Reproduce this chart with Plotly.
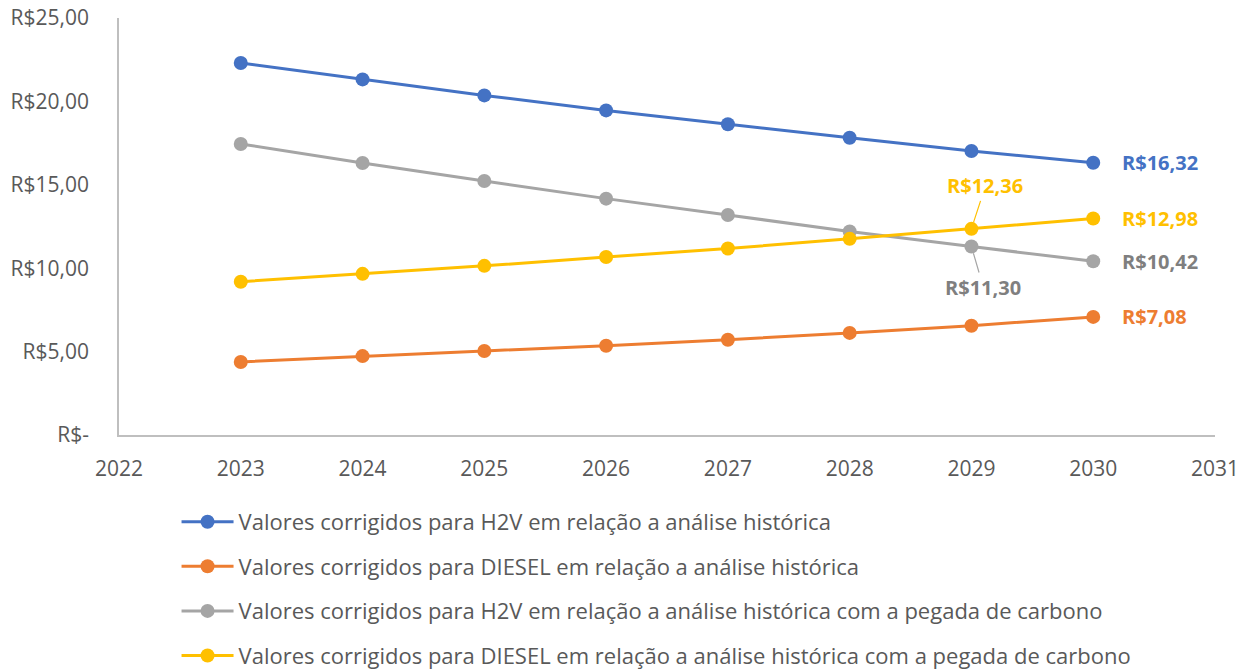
import plotly.graph_objects as go

years = [2023, 2024, 2025, 2026, 2027, 2028, 2029, 2030]
h2v = [22.30, 21.32, 20.36, 19.46, 18.63, 17.82, 17.03, 16.32]
diesel = [4.38, 4.73, 5.04, 5.35, 5.71, 6.12, 6.55, 7.08]
h2v_carbono = [17.45, 16.31, 15.23, 14.17, 13.19, 12.20, 11.30, 10.42]
diesel_carbono = [9.19, 9.66, 10.14, 10.67, 11.18, 11.76, 12.36, 12.98]

names = [
    "Valores corrigidos para H2V em relação a análise histórica",
    "Valores corrigidos para DIESEL em relação a análise histórica",
    "Valores corrigidos para H2V em relação a análise histórica com a pegada de carbono",
    "Valores corrigidos para DIESEL em relação a análise histórica com a pegada de carbono",
]
series = [h2v, diesel, h2v_carbono, diesel_carbono]
colors = ["#4472C4", "#ED7D31", "#A5A5A5", "#FFC000"]
label_colors = ["#4472C4", "#ED7D31", "#7F7F7F", "#FFC000"]

y_ticks = [0, 5, 10, 15, 20, 25]
x_ticks = list(range(2022, 2032))


def brl(v):
    if v == 0:
        return "R$-"
    return "R$" + f"{v:.2f}".replace(".", ",")


FONT = "Open Sans, Calibri, sans-serif"

fig = go.Figure()
for i, (name, vals, c) in enumerate(zip(names, series, colors)):
    fig.add_trace(go.Scatter(
        x=years, y=vals, name=name, mode="lines+markers",
        line=dict(color=c, width=3),
        marker=dict(color=c, size=14),
        legendgroup=f"g{i}",
    ))

annotations = []
# end labels at 2030
for vals, lc in zip(series, label_colors):
    annotations.append(dict(
        x=years[-1], y=vals[-1], text=f"<b>{brl(vals[-1])}</b>",
        showarrow=False, xanchor="left", yanchor="middle", xshift=27,
        font=dict(color=lc, size=20, family=FONT),
    ))
# 2029 labels with leader lines
annotations.append(dict(
    x=years[-2], y=diesel_carbono[-2], text=f"<b>{brl(diesel_carbono[-2])}</b>",
    showarrow=True, arrowhead=0, arrowwidth=1.2, arrowcolor="#FFC000",
    ax=14, ay=-43, standoff=7,
    font=dict(color="#FFC000", size=20, family=FONT),
))
annotations.append(dict(
    x=years[-2], y=h2v_carbono[-2], text=f"<b>{brl(h2v_carbono[-2])}</b>",
    showarrow=True, arrowhead=0, arrowwidth=1.2, arrowcolor="#A5A5A5",
    ax=12, ay=41, standoff=7,
    font=dict(color="#7F7F7F", size=20, family=FONT),
))

fig.update_layout(
    width=1258, height=670,
    margin=dict(l=119, r=43, t=18, b=235, autoexpand=False),
    paper_bgcolor="white", plot_bgcolor="white",
    font=dict(family=FONT, size=21, color="#595959"),
    showlegend=True,
    legend=dict(
        orientation="v", x=0.0525, xanchor="left", y=-0.158, yanchor="top",
        font=dict(size=22, color="#595959", family=FONT), tracegroupgap=13,
        itemwidth=52, bgcolor="rgba(0,0,0,0)",
    ),
    annotations=annotations,
    xaxis=dict(
        range=[2022, 2031], tickvals=x_ticks, ticktext=[str(t) for t in x_ticks],
        showgrid=False, zeroline=False, showline=True, linecolor="#BFBFBF",
        linewidth=1.5, ticks="outside", ticklen=14, tickcolor="rgba(0,0,0,0)",
        tickfont=dict(size=21, color="#595959"), ticklabeloverflow="allow",
    ),
    yaxis=dict(
        range=[0, 25], tickvals=y_ticks, ticktext=[brl(t) for t in y_ticks],
        showgrid=False, zeroline=False, showline=True, linecolor="#BFBFBF",
        linewidth=1.5, ticks="outside", ticklen=24, tickcolor="rgba(0,0,0,0)",
        tickfont=dict(size=21, color="#595959"), ticklabeloverflow="allow",
    ),
)

fig.write_html(
    "out.html",
    config={"displayModeBar": False},
    post_script="document.body.style.margin='0px';document.body.style.padding='0px';",
)
